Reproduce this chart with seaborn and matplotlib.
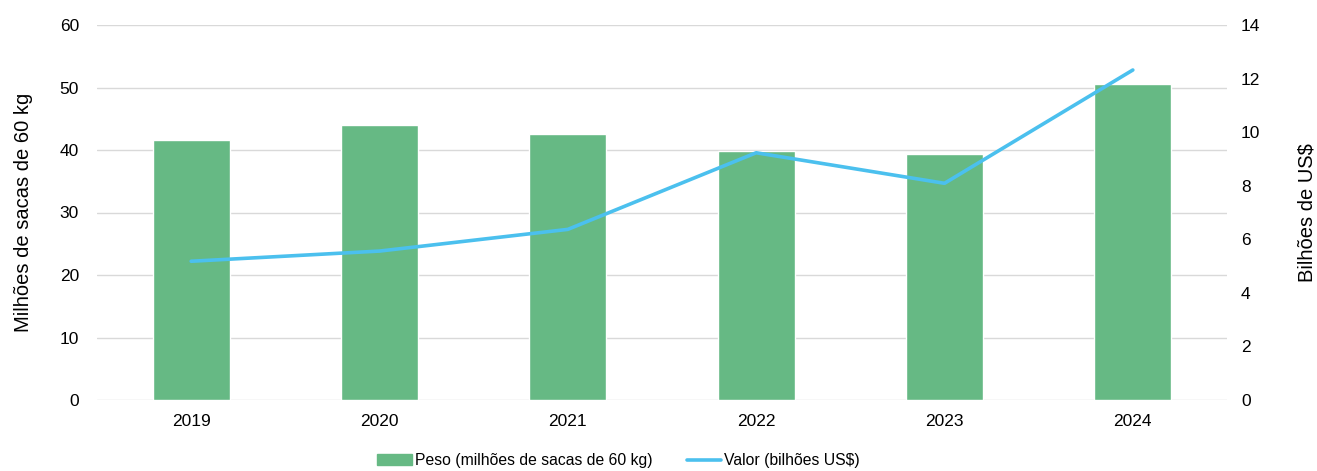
import matplotlib
matplotlib.use("Agg")
import matplotlib.pyplot as plt
import seaborn as sns
import pandas as pd
from matplotlib.patches import Patch
from matplotlib.lines import Line2D

years = ["2019", "2020", "2021", "2022", "2023", "2024"]
peso = [41.6, 43.95, 42.5, 39.9, 39.3, 50.6]
valor = [5.18, 5.56, 6.37, 9.23, 8.09, 12.32]

bar_color = "#66B984"
line_color = "#4BC0EE"
grid_color = "#D9D9D9"

sns.set_theme(style="white")
plt.rcParams["font.family"] = ["Liberation Sans", "DejaVu Sans"]

df = pd.DataFrame({"ano": years, "peso": peso, "valor": valor})
df["pos"] = range(len(df))

W, H = 1317, 471
fig = plt.figure(figsize=(W / 100, H / 100), dpi=100)
ax = fig.add_axes([97 / W, 1 - 400 / H, (1227 - 97) / W, (400 - 25) / H])

sns.barplot(data=df, x="ano", y="peso", color=bar_color, width=0.41,
            saturation=1, ax=ax, zorder=2)
ax.set_ylim(0, 60)
ax.set_yticks(range(0, 61, 10))
ax.set_xlim(-0.5, len(years) - 0.5)
ax.grid(axis="y", color=grid_color, linewidth=1.0, zorder=0)
ax.set_axisbelow(True)
for s in ax.spines.values():
    s.set_visible(False)
ax.tick_params(axis="both", length=0, labelsize=12.5, colors="#000000", pad=10)
ax.tick_params(axis="y", pad=13)
ax.set_xlabel("")
ax.set_ylabel("Milhões de sacas de 60 kg", fontsize=14.5, color="#000000")
ax.yaxis.set_label_coords((33 - 97) / 1130, 0.5)

ax2 = ax.twinx()
sns.lineplot(data=df, x="pos", y="valor", color=line_color, linewidth=2.6,
             ax=ax2, zorder=3)
ax2.set_ylim(0, 14)
ax2.set_yticks(range(0, 15, 2))
ax2.set_xlim(-0.5, len(years) - 0.5)
for s in ax2.spines.values():
    s.set_visible(False)
ax2.tick_params(axis="y", length=0, labelsize=12.5, colors="#000000", pad=10)
ax2.set_ylabel("Bilhões de US\\$", fontsize=14.5, color="#000000")
ax2.yaxis.set_label_coords((1298 - 97) / 1130, 0.5)
ax2.set_xlabel("")

handles = [Patch(facecolor=bar_color, edgecolor=bar_color),
           Line2D([0], [0], color=line_color, linewidth=2.6)]
labels = ["Peso (milhões de sacas de 60 kg)", "Valor (bilhões US\\$)"]
fig.legend(handles, labels, loc="lower left",
           bbox_to_anchor=(377 / W, 3 / H),
           ncol=2, frameon=False, fontsize=11.3, handlelength=2.2,
           handletextpad=0.2, columnspacing=2.2, borderpad=0,
           borderaxespad=0, labelcolor="#000000")

fig.savefig("out.png", dpi=100)
